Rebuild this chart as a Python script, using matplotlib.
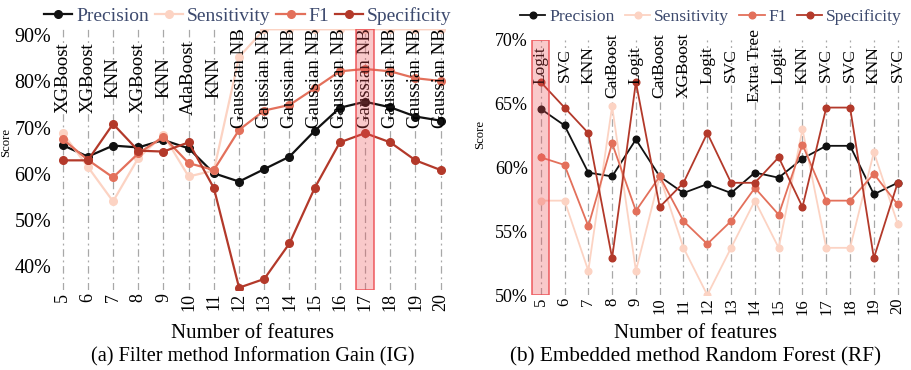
import numpy as np
import matplotlib.pyplot as plt
from matplotlib.ticker import FuncFormatter

plt.rcParams['font.family'] = ['Liberation Serif', 'DejaVu Serif']

# number of selected features
n_feat = list(range(5, 21))

# (a) Information Gain
ig_model = ['XGBoost', 'XGBoost', 'KNN', 'XGBoost', 'KNN', 'AdaBoost', 'KNN',
            'Gaussian NB', 'Gaussian NB', 'Gaussian NB', 'Gaussian NB', 'Gaussian NB',
            'Gaussian NB', 'Gaussian NB', 'Gaussian NB', 'Gaussian NB']
ig_prec = [66.2, 63.7, 66.1, 65.7, 67.3, 65.5, 60.1, 58.3, 61.0, 63.7, 69.3, 74.3, 75.6, 74.4, 72.4, 71.5]
ig_sens = [68.8, 61.5, 54.0, 63.4, 68.4, 59.4, 60.7, 85.3, 91.3, 91.3, 91.3, 91.3, 91.3, 91.3, 91.3, 91.3]
ig_f1 = [67.5, 63.0, 59.2, 64.4, 68.0, 62.3, 60.8, 69.5, 73.7, 74.9, 78.5, 82.2, 82.7, 82.2, 80.7, 80.1]
ig_spec = [62.9, 62.9, 70.8, 65.0, 64.8, 66.8, 56.9, 35.3, 37.2, 44.9, 56.9, 66.8, 68.8, 66.8, 62.9, 60.8]
ig_best = 17

# (b) Random Forest
rf_model = ['Logit', 'SVC', 'KNN', 'CatBoost', 'Logit', 'CatBoost', 'XGBoost', 'Logit',
            'SVC', 'Extra Tree', 'Logit', 'KNN', 'SVC', 'SVC', 'KNN', 'SVC']
rf_prec = [64.6, 63.3, 59.6, 59.3, 62.2, 59.3, 58.0, 58.7, 58.0, 59.6, 59.2, 60.7, 61.7, 61.7, 57.9, 58.8]
rf_sens = [57.4, 57.4, 51.9, 64.8, 51.9, 59.3, 53.7, 50.0, 53.7, 57.4, 53.7, 63.0, 53.7, 53.7, 61.2, 55.6]
rf_f1 = [60.8, 60.2, 55.4, 61.9, 56.6, 59.3, 55.8, 54.0, 55.8, 58.4, 56.3, 61.8, 57.4, 57.4, 59.5, 57.1]
rf_spec = [66.7, 64.7, 62.7, 52.9, 66.7, 56.9, 58.8, 62.7, 58.8, 58.8, 60.8, 56.9, 64.7, 64.7, 52.9, 58.8]
rf_best = 5

metric_names = ['Precision', 'Sensitivity', 'F1', 'Specificity']
colors = ['#111111', '#fcd3c3', '#e3705b', '#b3392a']

fig = plt.figure(figsize=(9.11, 3.70), dpi=100)
ax1 = fig.add_axes([0.0577, 0.2162, 0.4371, 0.7046])
ax2 = fig.add_axes([0.5831, 0.2027, 0.4127, 0.6892])

panels = [
    dict(ax=ax1, models=ig_model, series=[ig_prec, ig_sens, ig_f1, ig_spec], best=ig_best,
         ylim=(34.8, 91.3), yticks=[40, 50, 60, 70, 80, 90], label_y=80.8,
         fs_cat=13.5, fs_y=14.5, fs_x=13, fs_leg=14, lw=1.6, ms=5.5,
         leg_xy=(0.491, 1.051), colsp=0.3, score_xy=(-0.101, 0.566), ypad=1,
         xlab_x=252.5, cap='(a) Filter method Information Gain (IG)', cap_x=252.7, cap_fs=14.6),
    dict(ax=ax2, models=rf_model, series=[rf_prec, rf_sens, rf_f1, rf_spec], best=rf_best,
         ylim=(50, 70), yticks=[50, 55, 60, 65, 70], label_y=68.0,
         fs_cat=12.5, fs_y=13, fs_x=12, fs_leg=12.6, lw=1.3, ms=4.8,
         leg_xy=(0.478, 1.091), colsp=0.6, score_xy=(-0.119, 0.631), ypad=2.5,
         xlab_x=696, cap='(b) Embedded method Random Forest (RF)', cap_x=696, cap_fs=15.3),
]

W, H = 911.0, 370.0

for p in panels:
    ax = p['ax']
    for x in n_feat:
        ax.axvline(x, color='#a8a8a8', lw=0.9, ls=(0, (6, 3, 1.5, 3)), zorder=0)
    for name, vals, c in zip(metric_names, p['series'], colors):
        ax.plot(n_feat, vals, '-o', color=c, lw=p['lw'], ms=p['ms'], label=name, zorder=3)
    for x, m in zip(n_feat, p['models']):
        ax.text(x, p['label_y'], m, rotation=90, ha='center', va='center',
                fontsize=p['fs_cat'], color='black', zorder=4)
    ax.axvspan(p['best'] - 0.35, p['best'] + 0.35, facecolor=(0.93, 0.3, 0.32, 0.3),
               edgecolor=(0.93, 0.3, 0.32, 0.85), lw=1.2, zorder=5)
    ax.set_xlim(4.6, 20.4)
    ax.set_ylim(*p['ylim'])
    ax.set_xticks(n_feat)
    ax.set_xticklabels([str(n) for n in n_feat], rotation=90, fontsize=p['fs_x'])
    ax.set_yticks(p['yticks'])
    ax.yaxis.set_major_formatter(FuncFormatter(lambda v, pos: '%d%%' % v))
    ax.tick_params(axis='y', length=0, labelsize=p['fs_y'], pad=p['ypad'])
    ax.tick_params(axis='x', length=0, pad=2)
    for s in ax.spines.values():
        s.set_visible(False)
    ax.set_ylabel('Score', fontsize=9.2)
    ax.yaxis.set_label_coords(*p['score_xy'])
    leg = ax.legend(loc='center', bbox_to_anchor=p['leg_xy'], ncol=4, frameon=False,
                    fontsize=p['fs_leg'], handlelength=1.45, handletextpad=0.2,
                    columnspacing=p['colsp'], borderaxespad=0, borderpad=0)
    for t in leg.get_texts():
        t.set_color('#3d4a6e')
    fig.text(p['xlab_x'] / W, 1 - 333 / H, 'Number of features', ha='center', va='center', fontsize=15)
    fig.text(p['cap_x'] / W, 1 - 357 / H, p['cap'], ha='center', va='center', fontsize=p['cap_fs'])

fig.savefig('out.png', dpi=100)
